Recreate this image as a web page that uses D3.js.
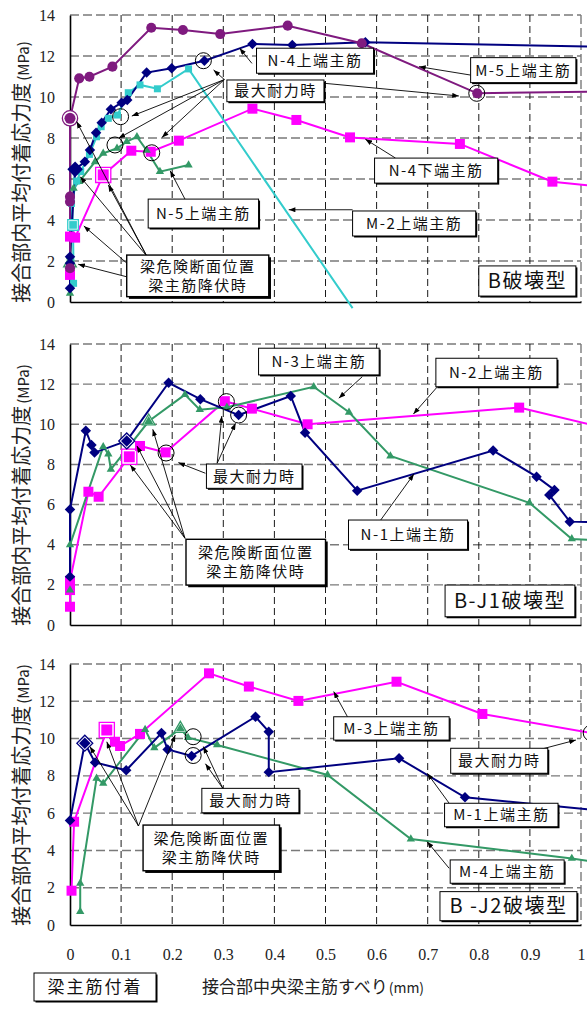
<!DOCTYPE html>
<html>
<head>
<meta charset="utf-8">
<script src="https://cdn.jsdelivr.net/npm/d3@7"></script>
<style>
  body { margin: 0; background: #fff; }
  svg { display: block; }
</style>
</head>
<body>
<div id="chart"></div>
<script>
// Bond stress in joint vs. slip of beam bars at joint centre, three failure types
// values: [slip (mm), bond stress (MPa)]

const xTicks = [0, 0.1, 0.2, 0.3, 0.4, 0.5, 0.6, 0.7, 0.8, 0.9, 1];
const xTickLabels = ["0", "0.1", "0.2", "0.3", "0.4", "0.5", "0.6", "0.7", "0.8", "0.9", "1"];
const yTicks = [0, 2, 4, 6, 8, 10, 12, 14];

// ---- panel 1 : B破壊型
const b_M5top = [[0,1.65],[0,4.89],[0,5.14],[0,8.96],[0.018,10.91],[0.038,10.99],[0.083,11.48],[0.159,13.38],[0.221,13.27],[0.294,13.07],[0.426,13.48],[0.571,12.62],[0.797,10.18],[1.05,10.27]];
const b_N4top = [[0,0.67],[0,1.89],[0,2.21],[0.01,6.47],[0.029,6.84],[0.039,7.41],[0.051,8.26],[0.062,8.75],[0.08,9.4],[0.101,9.72],[0.112,9.85],[0.15,11.19],[0.199,11.4],[0.263,11.77],[0.357,12.59],[0.435,12.54],[0.578,12.67],[1.05,12.45]];
const b_M2top = [[0.007,0.91],[0.006,3.76],[0.003,4.81],[0.013,5.9],[0.021,6.36],[0.038,7.2],[0.052,8.06],[0.061,8.55],[0.075,8.96],[0.093,9.12],[0.114,10.21],[0.137,10.59],[0.171,10.4],[0.232,11.37],[0.553,-0.3]];
const b_N5top = [[0,0.42],[0,1.89],[0,2.2],[0.007,5.55],[0.018,5.87],[0.049,6.84],[0.065,7.25],[0.092,7.5],[0.111,7.82],[0.131,8.06],[0.15,7.4],[0.176,6.36],[0.232,6.68]];
const b_N4bot = [[0,1.32],[0,3.19],[0.01,3.14],[0.065,6.2],[0.12,7.38],[0.158,7.33],[0.213,7.87],[0.357,9.43],[0.443,8.88],[0.548,8.03],[0.763,7.71],[0.944,5.87],[1.05,5.6]];
const b_maxPts = [[0.088,7.66],[0.099,9.04],[0.16,7.28],[0.261,11.77],[0.796,10.18]];

// ---- panel 2 : B-J1破壊型
const j1_N1top = [[0,2.41],[0,5.76],[0.031,9.68],[0.042,8.97],[0.048,8.59],[0.111,9.17],[0.193,12.07],[0.255,11.25],[0.33,10.46],[0.432,11.41],[0.46,9.58],[0.562,6.69],[0.828,8.69],[0.913,7.39],[0.948,6.73],[0.938,6.48],[0.978,5.15],[1.05,5.1]];
const j1_N3top = [[0,1.74],[0,3.99],[0.065,8.88],[0.075,8.52],[0.08,7.76],[0.154,10.15],[0.225,11.48],[0.254,10.73],[0.307,10.85],[0.477,11.87],[0.546,10.6],[0.627,8.42],[0.899,6.09],[0.982,4.29],[1.05,4.2]];
const j1_N2top = [[0,0.91],[0,1.74],[0,2.2],[0.036,6.64],[0.056,6.39],[0.116,8.38],[0.137,8.92],[0.187,8.6],[0.303,11.15],[0.356,10.78],[0.465,10.0],[0.879,10.83],[1.05,9.8]];
const j1_maxPts = [[0.188,8.57],[0.306,11.13],[0.33,10.46]];

// ---- panel 3 : B -J2破壊型
const j2_M1top = [[0,5.6],[0.029,9.75],[0.049,8.72],[0.11,8.3],[0.179,10.3],[0.191,9.42],[0.238,9.07],[0.363,11.17],[0.389,10.37],[0.389,8.2],[0.644,8.94],[0.773,6.85],[1.05,6.1]];
const j2_M3top = [[0.003,1.84],[0.008,5.54],[0.072,10.46],[0.088,9.83],[0.098,9.6],[0.137,10.25],[0.272,13.5],[0.35,12.79],[0.447,12.02],[0.639,13.05],[0.807,11.32],[1.02,10.3]];
const j2_M4top = [[0.02,0.72],[0.02,2.23],[0.052,7.87],[0.065,7.6],[0.147,10.48],[0.165,9.5],[0.216,10.53],[0.231,10.05],[0.288,9.66],[0.504,8.05],[0.667,4.61],[0.982,3.57],[1.05,3.3]];
const j2_maxPts = [[0.241,10.1],[0.241,9.09],[1.02,10.3]];

const COL = { purple: "#7f1a7f", navy: "#000080", cyan: "#33cccc", green: "#339966", magenta: "#ff00ff" };

const panels = [
  {
    top: 15, bottom: 302,
    series: [
      { pts: b_N4bot, color: COL.magenta, shape: "square", size: 100, yieldAt: 3 },
      { pts: b_N5top, color: COL.green, shape: "triangle", size: 30, yieldAt: 1 },
      { pts: b_M2top, color: COL.cyan, shape: "square", size: 49, yieldAt: 1 },
      { pts: b_N4top, color: COL.navy, shape: "diamond", size: 55, yieldAt: 3, yieldSolid: true },
      { pts: b_M5top, color: COL.purple, shape: "circle", size: 80, yieldAt: 3 }
    ],
    maxPts: b_maxPts,
    labels: [
      { t: ["N-4上端主筋"], x0: 0.365, x1: 0.594, y0: 12.38, y1: 11.16 },
      { t: ["M-5上端主筋"], x0: 0.784, x1: 0.990, y0: 11.92, y1: 10.70 },
      { t: ["最大耐力時"], x0: 0.307, x1: 0.497, y0: 10.83, y1: 9.77 },
      { t: ["N-4下端主筋"], x0: 0.596, x1: 0.837, y0: 7.02, y1: 5.80 },
      { t: ["M-2上端主筋"], x0: 0.553, x1: 0.794, y0: 4.44, y1: 3.22 },
      { t: ["N-5上端主筋"], x0: 0.153, x1: 0.369, y0: 5.02, y1: 3.61 },
      { t: ["梁危険断面位置", "梁主筋降伏時"], x0: 0.111, x1: 0.389, y0: 2.29, y1: 0.26, heavy: true },
      { t: ["B破壊型"], x0: 0.8, x1: 0.99, y0: 1.76, y1: 0.29, big: true }
    ],
    arrows: [
      [0.302,10.85,0.281,11.32],[0.302,10.85,0.121,9.07],[0.302,10.85,0.095,7.99],[0.302,10.85,0.18,8.03],
      [0.497,10.67,0.761,10.05],
      [0.356,11.64,0.332,12.38],
      [0.784,11.07,0.683,11.48],
      [0.637,7.02,0.578,7.94],
      [0.553,4.5,0.428,4.5],
      [0.225,5.02,0.196,6.4],
      [0.15,2.25,0.013,8.8],[0.15,2.25,0.02,6.11],[0.15,2.25,0.075,5.71],
      [0.111,1.9,0.027,3.71],[0.111,1.23,0.016,1.84]
    ]
  },
  {
    top: 344, bottom: 625,
    series: [
      { pts: j1_N2top, color: COL.magenta, shape: "square", size: 100, yieldAt: 5 },
      { pts: j1_N3top, color: COL.green, shape: "triangle", size: 30, yieldAt: 5 },
      { pts: j1_N1top, color: COL.navy, shape: "diamond", size: 55, yieldAt: 5 }
    ],
    maxPts: j1_maxPts,
    labels: [
      { t: ["N-3上端主筋"], x0: 0.369, x1: 0.605, y0: 13.79, y1: 12.46 },
      { t: ["N-2上端主筋"], x0: 0.716, x1: 0.953, y0: 13.29, y1: 11.87 },
      { t: ["最大耐力時"], x0: 0.267, x1: 0.454, y0: 8.02, y1: 6.81 },
      { t: ["N-1上端主筋"], x0: 0.545, x1: 0.778, y0: 5.23, y1: 3.77 },
      { t: ["梁危険断面位置", "梁主筋降伏時"], x0: 0.227, x1: 0.5, y0: 4.27, y1: 1.99, heavy: true },
      { t: ["B-J1破壊型"], x0: 0.734, x1: 0.988, y0: 1.99, y1: 0.41, big: true }
    ],
    arrows: [
      [0.572,12.37,0.526,11.30],
      [0.719,11.87,0.672,10.51],
      [0.288,8.06,0.297,10.41],[0.288,8.06,0.324,10.05],[0.265,7.56,0.212,8.09],
      [0.608,5.23,0.673,7.52],
      [0.225,4.32,0.118,7.97],[0.225,4.32,0.131,8.92],[0.225,4.32,0.162,9.75]
    ]
  },
  {
    top: 664, bottom: 925, xLabels: true,
    series: [
      { pts: j2_M3top, color: COL.magenta, shape: "square", size: 100, yieldAt: 2 },
      { pts: j2_M4top, color: COL.green, shape: "triangle", size: 30, yieldAt: 6 },
      { pts: j2_M1top, color: COL.navy, shape: "diamond", size: 55, yieldAt: 1 }
    ],
    maxPts: j2_maxPts,
    labels: [
      { t: ["M-3上端主筋"], x0: 0.516, x1: 0.742, y0: 11.17, y1: 9.92 },
      { t: ["最大耐力時"], x0: 0.745, x1: 0.935, y0: 9.48, y1: 8.14 },
      { t: ["最大耐力時"], x0: 0.258, x1: 0.448, y0: 7.33, y1: 6.02 },
      { t: ["梁危険断面位置", "梁主筋降伏時"], x0: 0.143, x1: 0.41, y0: 5.36, y1: 2.91, heavy: true },
      { t: ["M-1上端主筋"], x0: 0.733, x1: 0.955, y0: 6.53, y1: 5.27 },
      { t: ["M-4上端主筋"], x0: 0.744, x1: 0.967, y0: 3.49, y1: 2.24 },
      { t: ["B -J2破壊型"], x0: 0.724, x1: 0.992, y0: 1.79, y1: 0.23, big: true }
    ],
    arrows: [
      [0.543,11.17,0.516,12.52],
      [0.922,9.43,0.99,9.92],
      [0.299,7.33,0.261,9.57],[0.299,7.33,0.265,8.65],
      [0.134,5.31,0.039,9.57],[0.134,5.31,0.072,9.83],[0.134,5.31,0.206,10.19],
      [0.742,6.53,0.699,8.14],
      [0.742,3.04,0.699,4.47]
    ]
  }
];

const W = 587, H = 1010;
const CJK = "'Noto Sans CJK JP', 'Noto Sans', sans-serif";
const SERIF = "'Liberation Serif', 'DejaVu Serif', serif";

const svg = d3.select("#chart").append("svg")
  .attr("width", W).attr("height", H)
  .attr("viewBox", `0 0 ${W} ${H}`);

svg.append("defs").append("marker")
  .attr("id", "arrow")
  .attr("viewBox", "0 0 8 6")
  .attr("refX", 8).attr("refY", 3)
  .attr("markerWidth", 7).attr("markerHeight", 5)
  .attr("markerUnits", "userSpaceOnUse")
  .attr("orient", "auto")
  .append("path").attr("d", "M0,0L8,3L0,6Z").attr("fill", "#000");

const x = d3.scaleLinear().domain([0, 1]).range([70, 581]);

const symType = {
  circle: d3.symbolCircle,
  square: d3.symbolSquare,
  diamond: d3.symbolSquare,   // rotated 45deg below
  triangle: d3.symbolTriangle
};

panels.forEach(p => {
  const y = d3.scaleLinear().domain([0, 14]).range([p.bottom, p.top]);
  const g = svg.append("g");

  // grid
  g.selectAll(".hg").data(yTicks.filter(d => d > 0)).join("line")
    .attr("x1", x(0)).attr("x2", x(1))
    .attr("y1", d => y(d)).attr("y2", d => y(d))
    .attr("stroke", "#7a7a7a").attr("stroke-width", 1.4)
    .attr("stroke-dasharray", "9,4");
  g.selectAll(".vg").data(xTicks.filter(d => d > 0 && d < 1)).join("line")
    .attr("x1", d => x(d)).attr("x2", d => x(d))
    .attr("y1", y(14)).attr("y2", y(0))
    .attr("stroke", "#000").attr("stroke-width", 0.9)
    .attr("stroke-dasharray", "7,4");
  g.append("line")
    .attr("x1", x(1)).attr("x2", x(1)).attr("y1", y(14)).attr("y2", y(0))
    .attr("stroke", "#7a7a7a").attr("stroke-width", 1.4)
    .attr("stroke-dasharray", "9,4");

  // axes
  const ya = g.append("g").attr("transform", `translate(${x(0)},0)`)
    .call(d3.axisLeft(y).tickValues(yTicks).tickSize(0).tickPadding(15));
  ya.select(".domain").attr("stroke", "#000").attr("stroke-width", 1.6);
  ya.selectAll("text").style("font-family", SERIF).style("font-size", "16px").attr("fill", "#222");

  const xa = g.append("g").attr("transform", `translate(0,${y(0)})`)
    .call(d3.axisBottom(x).tickValues(xTicks).tickFormat((d, i) => xTickLabels[i]).tickSize(0).tickPadding(24));
  xa.select(".domain").attr("stroke", "#000").attr("stroke-width", 1.6);
  xa.selectAll("text").style("font-family", SERIF).style("font-size", "16px").attr("fill", "#222");
  if (!p.xLabels) xa.selectAll("text").remove();

  // y title
  const ty = p.bottom - 130;
  const tt = g.append("text")
    .attr("transform", `translate(29,${ty}) rotate(-90)`)
    .attr("text-anchor", "middle")
    .attr("font-family", CJK).attr("font-size", 20).attr("fill", "#222");
  tt.append("tspan").text("接合部内平均付着応力度");
  tt.append("tspan").attr("font-size", 15).attr("dx", 2).text("(MPa)");

  // series
  const line = d3.line().x(d => x(d[0])).y(d => y(d[1]));
  p.series.forEach(s => {
    g.append("path").datum(s.pts)
      .attr("d", line).attr("fill", "none")
      .attr("stroke", s.color).attr("stroke-width", 2);
  });
  p.series.forEach(s => {
    const inside = s.pts.map((d, i) => ({ d, i })).filter(o => o.d[0] <= 1 && o.d[1] >= 0);
    inside.forEach(o => {
      const rot = s.shape === "diamond" ? " rotate(45)" : "";
      const tr = `translate(${x(o.d[0])},${y(o.d[1])})${rot}`;
      const sym = symType[s.shape];
      if (o.i === s.yieldAt) {
        if (s.yieldSolid) {
          g.append("path").attr("transform", tr)
            .attr("d", d3.symbol(sym, s.size * 2.2)()).attr("fill", s.color);
        } else {
          g.append("path").attr("transform", tr)
            .attr("d", d3.symbol(sym, s.size * 2.3)())
            .attr("fill", "#fff").attr("stroke", s.color).attr("stroke-width", 1.3);
          g.append("path").attr("transform", tr)
            .attr("d", d3.symbol(sym, s.size * 1.2)()).attr("fill", s.color);
        }
      } else {
        g.append("path").attr("transform", tr)
          .attr("d", d3.symbol(sym, s.size)()).attr("fill", s.color);
      }
    });
  });

  // max-capacity circles
  g.selectAll(".mc").data(p.maxPts).join("circle")
    .attr("cx", d => x(d[0])).attr("cy", d => y(d[1])).attr("r", 8)
    .attr("fill", "none").attr("stroke", "#000").attr("stroke-width", 1);

  // leader arrows
  g.selectAll(".ar").data(p.arrows).join("line")
    .attr("x1", d => x(d[0])).attr("y1", d => y(d[1]))
    .attr("x2", d => x(d[2])).attr("y2", d => y(d[3]))
    .attr("stroke", "#000").attr("stroke-width", 0.9)
    .attr("marker-end", "url(#arrow)");

  // label boxes
  p.labels.forEach(b => {
    const bx = x(b.x0), by = y(b.y0), bw = x(b.x1) - x(b.x0), bh = y(b.y1) - y(b.y0);
    const sh = b.heavy ? 2.2 : 1.5;
    g.append("rect").attr("x", bx + sh).attr("y", by + sh).attr("width", bw).attr("height", bh).attr("fill", "#000");
    g.append("rect").attr("x", bx).attr("y", by).attr("width", bw).attr("height", bh)
      .attr("fill", "#fff").attr("stroke", "#000").attr("stroke-width", b.heavy ? 1.4 : 1);
    const fs = b.big ? 20 : 15;
    const n = b.t.length;
    const lh = fs * 1.3;
    b.t.forEach((s, i) => {
      g.append("text")
        .attr("x", bx + bw / 2)
        .attr("y", by + bh / 2 + (i - (n - 1) / 2) * lh)
        .attr("dy", "0.36em")
        .attr("text-anchor", "middle")
        .attr("font-family", CJK).attr("font-size", fs)
        .attr("letter-spacing", 1.5)
        .attr("fill", "#111")
        .text(s);
    });
  });
});

// bottom notes
svg.append("rect").attr("x", 35.5).attr("y", 974.5).attr("width", 122).attr("height", 28).attr("fill", "#000");
svg.append("rect").attr("x", 34).attr("y", 973).attr("width", 122).attr("height", 28)
  .attr("fill", "#fff").attr("stroke", "#000").attr("stroke-width", 1);
svg.append("text").attr("x", 95).attr("y", 987).attr("dy", "0.36em")
  .attr("text-anchor", "middle").attr("font-family", CJK).attr("font-size", 17)
  .attr("letter-spacing", 2).attr("fill", "#111").text("梁主筋付着");

const xt = svg.append("text").attr("x", 313).attr("y", 993)
  .attr("text-anchor", "middle").attr("font-family", CJK).attr("font-size", 17).attr("fill", "#222");
xt.append("tspan").text("接合部中央梁主筋すべり");
xt.append("tspan").attr("font-size", 14).attr("dx", 1).text("(mm)");
</script>
</body>
</html>
